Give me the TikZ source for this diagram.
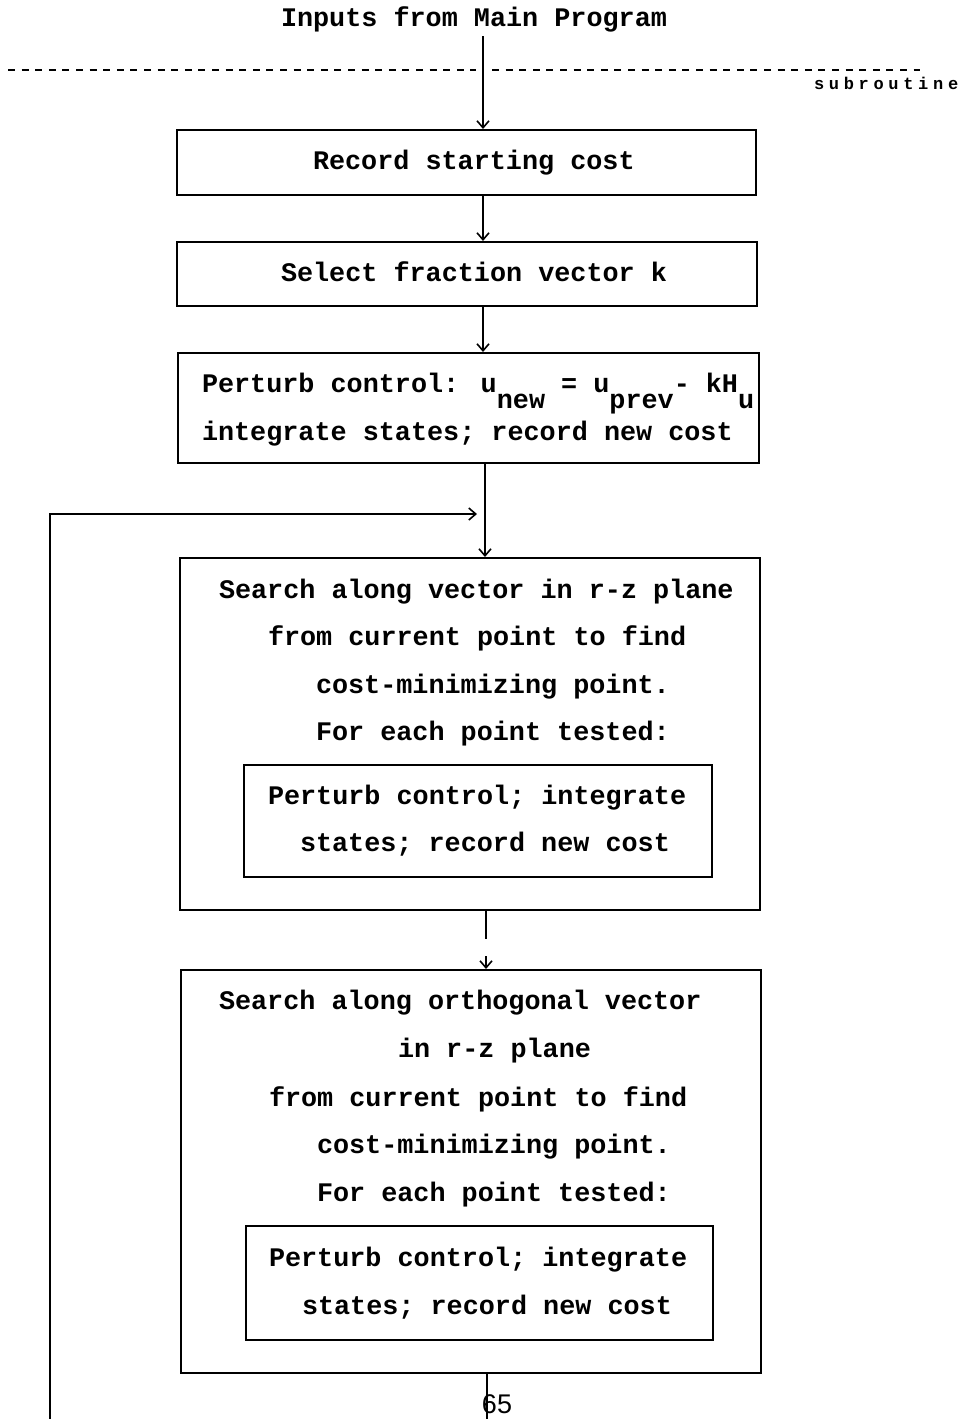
\documentclass[tikz,border=0pt]{standalone}
\usepackage{fontspec}
\newfontfamily\twfont{Liberation Mono}
\newfontfamily\spfont{Liberation Mono}[LetterSpace=27.6]
\newfontfamily\pgfont{Liberation Sans}
\usetikzlibrary{arrows.meta,fit}
\begin{document}
\begin{tikzpicture}[x=0.5pt,y=-0.5pt,
  box/.style={draw, line width=1pt, inner sep=0pt},
  txt/.style={inner sep=0pt, outer sep=0pt, anchor=base west, font=\twfont\bfseries\fontsize{13.4}{16}\selectfont},
  subtxt/.style={inner sep=0pt, outer sep=0pt, anchor=base west, font=\spfont\bfseries\fontsize{8.5}{10}\selectfont},
  pgtxt/.style={inner sep=0pt, outer sep=0pt, anchor=base, font=\pgfont\fontsize{13.5}{16}\selectfont},
  arr/.style={line width=0.8pt, -{Straight Barb[length=3.5pt,width=6pt]}},
  ln/.style={line width=0.8pt},
  dashline/.style={line width=1.4pt, dash pattern=on 3.5pt off 3.3pt}]
\useasboundingbox (0,0) rectangle (963,1419);

% header
\node[txt] (inp) at (281,26) {Inputs from Main Program};
\draw[dashline] (8,70) -- (476,70);
\draw[dashline] (492,70) -- (920,70);
\node[subtxt] (subr) at (814,89) {subroutine};

% boxes
\node[box, fit={(177,130) (756,195)}] (b1) {};
\node[box, fit={(177,242) (757,306)}] (b2) {};
\node[box, fit={(178,353) (759,463)}] (b3) {};
\node[box, fit={(180,558) (760,910)}] (b4) {};
\node[box, fit={(244,765) (712,877)}] (b4i) {};
\node[box, fit={(181,970) (761,1373)}] (b5) {};
\node[box, fit={(246,1226) (713,1340)}] (b5i) {};

% texts
\node[txt] (t1) at (313,169) {Record starting cost};
\node[txt] (t2) at (281,281) {Select fraction vector k};
\node[txt] (t3a) at (202,392) {Perturb control: u\raisebox{-8pt}{new} = u\raisebox{-8pt}{prev}- kH\raisebox{-8pt}{u}};
\node[txt] (t3b) at (202,440) {integrate states; record new cost};

\node[txt] (t4a) at (219,598) {Search along vector in r-z plane};
\node[txt] (t4b) at (268,645) {from current point to find};
\node[txt] (t4c) at (316,693) {cost-minimizing point.};
\node[txt] (t4d) at (316,740) {For each point tested:};
\node[txt] (t4e) at (268,804) {Perturb control; integrate};
\node[txt] (t4f) at (300,851) {states; record new cost};

\node[txt] (t5a) at (219,1009) {Search along orthogonal vector};
\node[txt] (t5b) at (398,1057) {in r-z plane};
\node[txt] (t5c) at (269,1106) {from current point to find};
\node[txt] (t5d) at (317,1153) {cost-minimizing point.};
\node[txt] (t5e) at (317,1201) {For each point tested:};
\node[txt] (t5f) at (269,1266) {Perturb control; integrate};
\node[txt] (t5g) at (302,1314) {states; record new cost};

\node[pgtxt] (pg) at (497,1413) {65};

% connectors
\coordinate (c0) at (483,36);
\coordinate (c3) at (485,0);
\coordinate (c4) at (486,0);
\coordinate (gapTop) at (486,939);
\coordinate (gapBot) at (486,956);
\coordinate (c5) at (487,0);
\coordinate (bottomEnd) at (487,1419);
\coordinate (loopStart) at (50,1419);
\coordinate (loopEnd) at (477,514);

\draw[arr] (c0) -- (b1.north -| c0);
\draw[arr] (b1.south -| c0) -- (b2.north -| c0);
\draw[arr] (b2.south -| c0) -- (b3.north -| c0);
\draw[arr] (b3.south -| c3) -- (b4.north -| c3);
\draw[ln] (b4.south -| c4) -- (gapTop);
\draw[arr] (gapBot) -- (b5.north -| c4);
\draw[ln] (b5.south -| c5) -- (bottomEnd);
\draw[arr] (loopStart) |- (loopEnd);
\end{tikzpicture}
\end{document}
